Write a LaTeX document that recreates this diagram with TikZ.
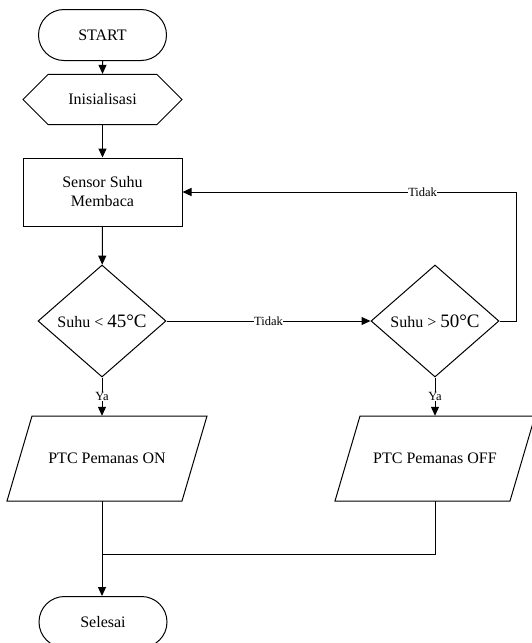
\documentclass[tikz,border=0pt]{standalone}
\usepackage{fontspec}
\setmainfont{Liberation Serif}
\usetikzlibrary{shapes.geometric,shapes.misc,arrows.meta}
\newcommand\paradraw[1]{\draw[conn] ([shift={(-100,42.5)}]#1.center) -- ([shift={(-75,-42.5)}]#1.center) -- ([shift={(100,-42.5)}]#1.center) -- ([shift={(75,42.5)}]#1.center) -- cycle;}
\begin{document}
\begin{tikzpicture}[x=1pt,y=-1pt,
  every node/.style={font=\fontsize{16}{19}\selectfont},
  base/.style={draw,line width=1pt,inner sep=0pt,align=center},
  terminal/.style={base,rounded rectangle,minimum width=128pt,minimum height=51pt},
  prep/.style={base,chamfered rectangle,chamfered rectangle corners={north west,south west,north east,south east},chamfered rectangle xsep=22pt,chamfered rectangle ysep=19.5pt,minimum width=159pt,minimum height=39pt},
  process/.style={base,rectangle,minimum width=159pt,minimum height=68pt},
  decision/.style={base,diamond,aspect=1.14,minimum width=128pt,minimum height=112pt},
  io/.style={inner sep=0pt,rectangle,minimum width=175pt,minimum height=85pt},
  conn/.style={line width=1pt},
  arr/.style={conn,-{Triangle[length=9pt,width=8pt]}},
  lbl/.style={fill=white,inner sep=0.5pt,font=\fontsize{12.5}{14}\selectfont}
]
\useasboundingbox (0,0) rectangle (532,643);
\node[terminal] (start) at (102.5,35) {START};
\node[prep] (init) at (102.5,99.5) {Inisialisasi};
\node[process] (sensor) at (102.5,192) {Sensor Suhu\\Membaca};
\node[decision] (d1) at (102,321) {Suhu {\fontsize{16}{19}\selectfont<} {\fontsize{19}{21}\selectfont 45°C}};
\node[decision] (d2) at (435,321) {Suhu {\fontsize{16}{19}\selectfont>} {\fontsize{19}{21}\selectfont 50°C}};
\node[io] (on) at (107,458.5) {PTC Pemanas ON};
\node[io] (off) at (435,458.5) {PTC Pemanas OFF};
\paradraw{on}
\paradraw{off}
\node[terminal] (end) at (103,622) {Selesai};
\coordinate (loop) at (516,321);
\coordinate (join) at (102,554);

\draw[arr] (start) -- (init);
\draw[arr] (init) -- (sensor);
\draw[arr] (sensor) -- (d1);
\draw[arr] (d1.east) -- node[lbl]{Tidak} (d2.west);
\draw[arr] (d2.east) -- (loop) |- node[lbl,pos=0.64]{Tidak} (sensor.east);
\draw[arr] (d1.south) -- node[lbl]{Ya} (d1.south |- on.north);
\draw[arr] (d2.south) -- node[lbl]{Ya} (d2.south |- on.north);
\draw[arr] (d1.south |- on.south) -- (d1.south |- end.north);
\draw[conn] (off.south) |- (join);
\end{tikzpicture}
\end{document}
